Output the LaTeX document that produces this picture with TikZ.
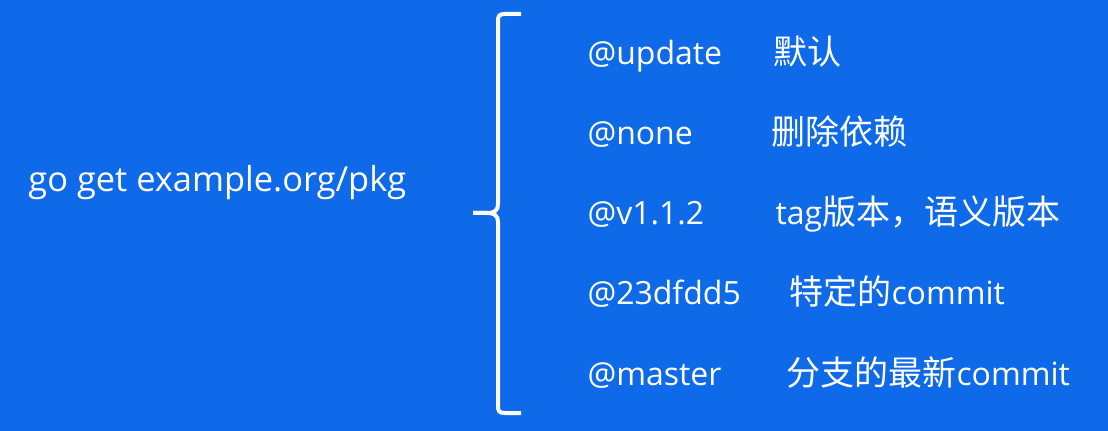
\documentclass[tikz,border=0pt]{standalone}
\usepackage{fontspec}
\setmainfont{Open Sans}
\newfontfamily\cjk{Noto Sans CJK SC}

\definecolor{bgblue}{RGB}{14,106,232}

\tikzset{every picture/.style={line width=0.75pt}}
\tikzset{
  optlabel/.style={anchor=base west, inner sep=0pt, text=white, font=\fontsize{24}{28}\selectfont},
  cmdlabel/.style={optlabel, font=\fontsize{25.8}{30}\selectfont},
  bracepath/.style={draw=white, line width=3pt},
}
\newcommand{\zh}[1]{{\cjk\fontsize{25.5}{30}\selectfont #1}}

\begin{document}
\begin{tikzpicture}[x=0.75pt,y=0.75pt,yscale=-1]

\useasboundingbox (0,0) rectangle (1108,431);
\fill [bgblue] (0,0) rectangle (1108,431);

% command on the left
\node [cmdlabel] (cmd) at (28,192) {go get example.org/pkg};

% brace
\coordinate (btop) at (521,14);
\coordinate (tip) at (473,213);
\coordinate (bbot) at (521,413);
\draw [bracepath] (btop) -- (505,14) .. controls (499,14) and (498,16) .. (498,21) -- (498,204)
  .. controls (498,210) and (495,213) .. (487,213) -- (tip) ;
\draw [bracepath] (tip) -- (487,213) .. controls (495,213) and (498,216) .. (498,222) -- (498,406)
  .. controls (498,411) and (499,413) .. (505,413) -- (bbot) ;

% options
\node [optlabel] (upd) at (587,65) {@update};
\node [optlabel] (none) at (587,145) {@none};
\node [optlabel] (tag) at (587,225) {@v1.1.2};
\node [optlabel] (hash) at (587,305) {@23dfdd5};
\node [optlabel] (master) at (587,385) {@master};

% meanings
\node [optlabel] (d-upd) at (773,65) {\zh{默认}};
\node [optlabel] (d-none) at (771,145) {\zh{删除依赖}};
\node [optlabel] (d-tag) at (775,225) {tag\zh{版本，语义版本}};
\node [optlabel] (d-hash) at (789,305) {\zh{特定的}commit};
\node [optlabel] (d-master) at (786,385) {\zh{分支的最新}commit};

\end{tikzpicture}
\end{document}
